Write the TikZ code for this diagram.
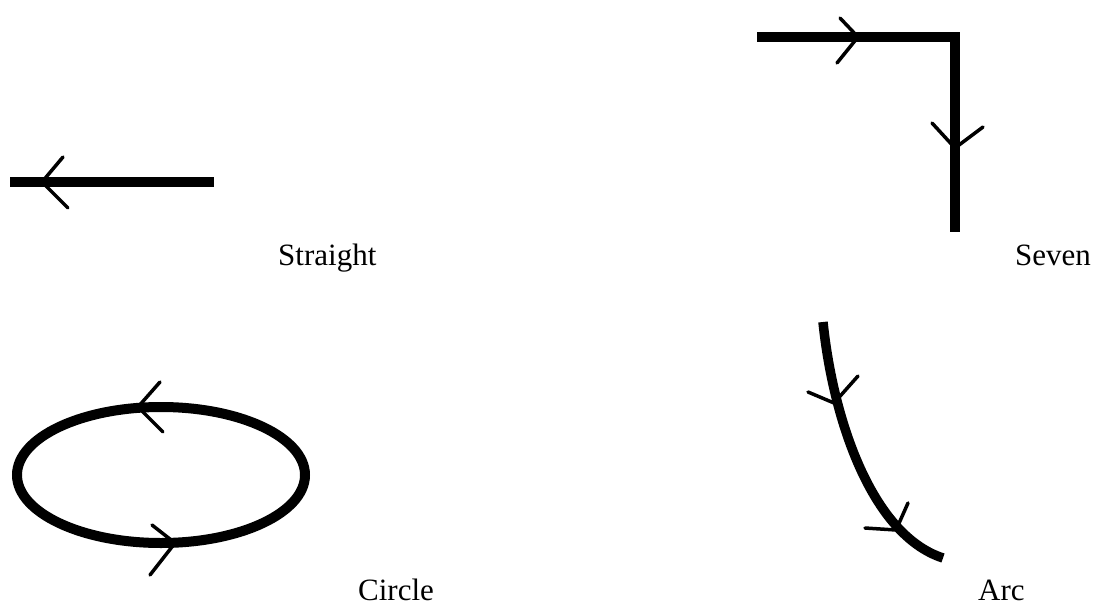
\documentclass[tikz,border=0pt]{standalone}
\usepackage{fontspec}
\setmainfont{Liberation Serif}
\begin{document}
\begin{tikzpicture}[x=1pt,y=-1pt,
  thickline/.style={line width=10pt},
  barb/.style={line width=3.5pt,line cap=round},
  lbl/.style={font=\fontsize{31}{33}\selectfont,anchor=base west,inner sep=0pt}]
\useasboundingbox (0,0) rectangle (1093,608);
% Straight
\coordinate (s1) at (10,182);
\coordinate (s2) at (214,182);
\draw[thickline] (s1) -- (s2);
\coordinate (st) at (42,182);
\draw[barb] (63,157) -- (st) -- (68,208);
\node[lbl] (lstraight) at (278,265) {Straight};
% Seven
\coordinate (v1) at (757,37);
\coordinate (v2) at (955,37);
\coordinate (v3) at (955,232);
\draw[thickline] (v1) -- (v2) -- (v3);
\coordinate (vt1) at (858,37);
\draw[barb] (840,18) -- (vt1) -- (837,63);
\coordinate (vt2) at (955,148);
\draw[barb] (932,123) -- (vt2) -- (983,127);
\node[lbl] (lseven) at (1015,265) {Seven};
% Circle
\coordinate (cc) at (161,475);
\draw[thickline] (cc) ellipse [x radius=144, y radius=68];
\coordinate (ct1) at (138,407);
\draw[barb] (160,382) -- (ct1) -- (163,432);
\coordinate (ct2) at (175,543);
\draw[barb] (152,525) -- (ct2) -- (150,575);
\node[lbl] (lcircle) at (358,600) {Circle};
% Arc
\coordinate (a1) at (823,322);
\coordinate (a2) at (943,558);
\draw[line width=9.5pt] (a1) .. controls (833,420) and (872,535) .. (a2);
\coordinate (at1) at (834,403);
\draw[barb] (808,392) -- (at1) -- (858,376);
\coordinate (at2) at (896,530);
\draw[barb] (865,528) -- (at2) -- (908,503);
\node[lbl] (larc) at (978,600) {Arc};
\end{tikzpicture}
\end{document}
